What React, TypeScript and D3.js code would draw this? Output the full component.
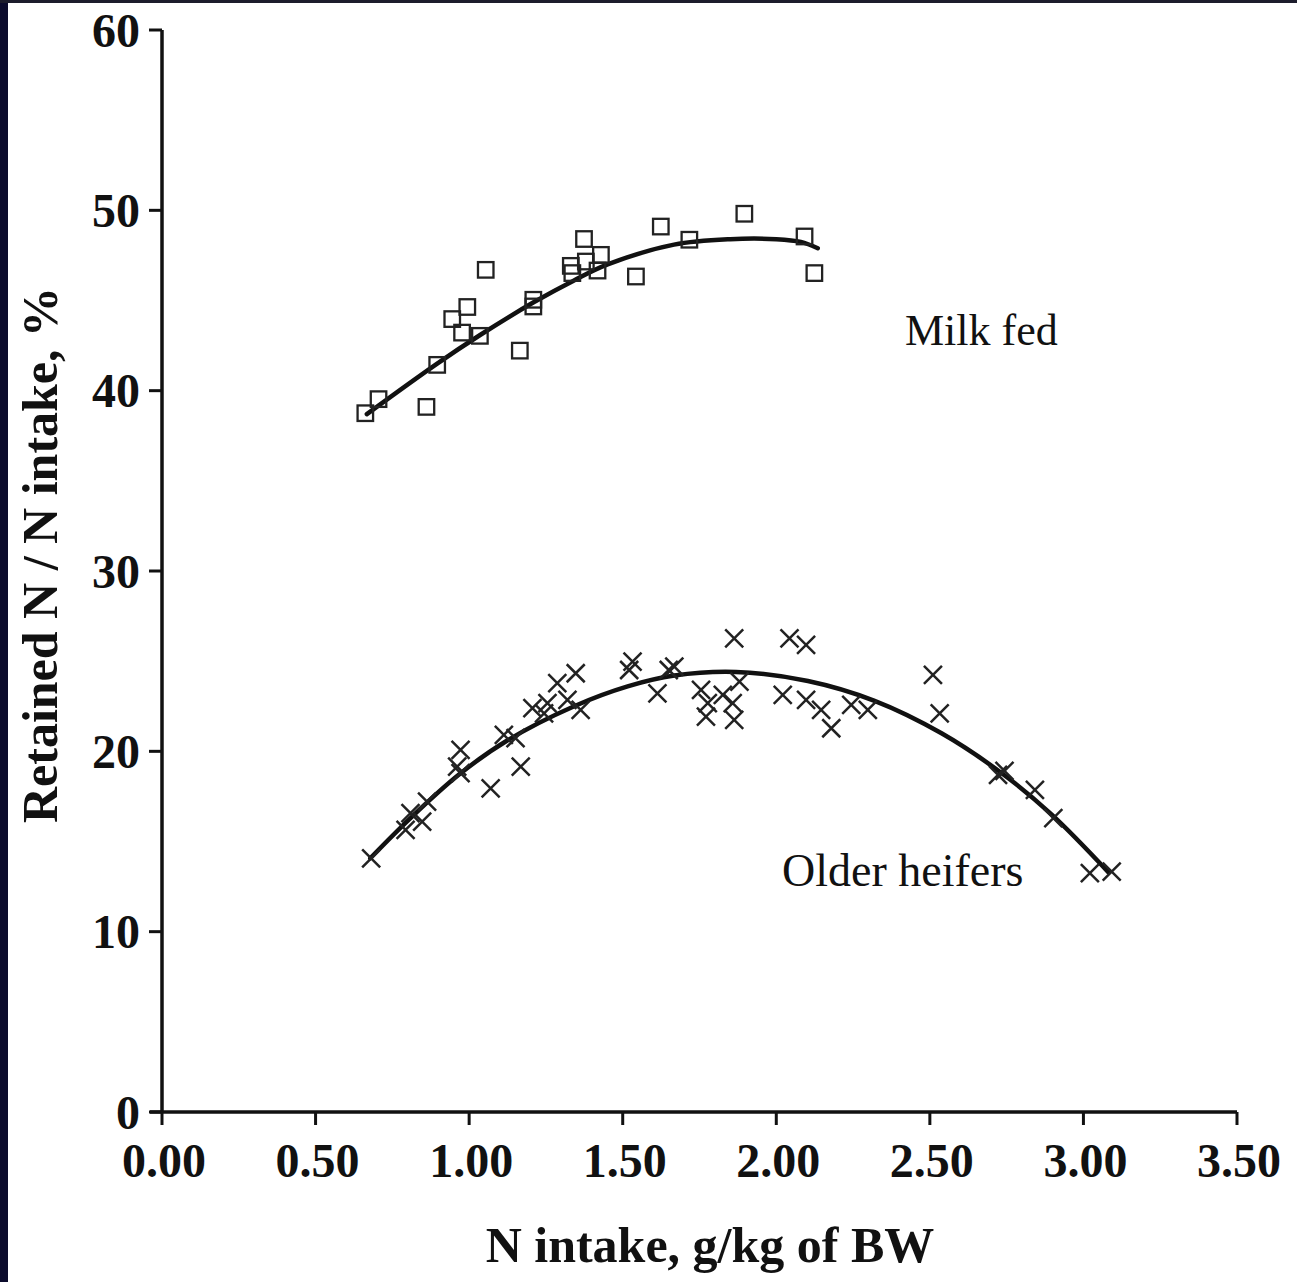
import React from "react";
import * as d3 from "d3";

const W = 1297;
const H = 1282;

// Milk fed (squares)
const milkX = [0.662, 0.705, 0.861, 0.896, 0.945, 0.994, 0.977, 1.035, 1.054, 1.165, 1.209, 1.209, 1.331, 1.336, 1.374, 1.380, 1.429, 1.418, 1.543, 1.624, 1.717, 1.896, 2.092, 2.124];
const milkY = [38.75, 39.53, 39.10, 41.43, 43.97, 44.64, 43.22, 43.04, 46.70, 42.22, 44.67, 45.04, 46.92, 46.52, 48.41, 47.16, 47.53, 46.66, 46.33, 49.10, 48.37, 49.81, 48.55, 46.52];

// Milk fed fitted curve
const milkFitX = [0.667, 0.896, 1.037, 1.210, 1.340, 1.451, 1.667, 1.850, 2.000, 2.080, 2.135];
const milkFitY = [38.7, 41.5, 43.1, 44.9, 46.1, 47.0, 48.1, 48.4, 48.4, 48.25, 47.9];

// Older heifers (crosses)
const heiferX = [0.681, 0.793, 0.809, 0.847, 0.863, 0.961, 0.972, 0.972, 1.070, 1.168, 1.113, 1.151, 1.206, 1.244, 1.287, 1.347, 1.255, 1.320, 1.363, 1.532, 1.521, 1.613, 1.668, 1.650, 1.755, 1.777, 1.771, 1.863, 2.043, 2.097, 1.826, 1.858, 1.863, 1.880, 2.021, 2.097, 2.146, 2.179, 2.244, 2.298, 2.510, 2.532, 2.722, 2.743, 2.842, 2.902, 3.021, 3.092];
const heiferY = [14.07, 15.64, 16.57, 16.10, 17.21, 19.15, 20.08, 18.79, 17.95, 19.15, 20.91, 20.73, 22.39, 22.11, 23.78, 24.33, 22.67, 22.85, 22.30, 24.97, 24.51, 23.22, 24.70, 24.51, 23.41, 22.67, 21.92, 26.27, 26.27, 25.90, 23.13, 22.67, 21.74, 23.87, 23.13, 22.85, 22.30, 21.28, 22.57, 22.30, 24.24, 22.11, 18.69, 18.91, 17.86, 16.29, 13.24, 13.33];

// Older heifers fitted curve
const heiferFitX = [0.678, 0.809, 0.966, 1.124, 1.342, 1.516, 1.668, 1.869, 2.103, 2.320, 2.538, 2.733, 2.896, 3.081];
const heiferFitY = [14.07, 16.3, 18.7, 20.6, 22.5, 23.6, 24.2, 24.4, 23.9, 22.8, 21.0, 18.8, 16.5, 13.3];

const xTicks = [0, 0.5, 1.0, 1.5, 2.0, 2.5, 3.0, 3.5];
const yTicks = [0, 10, 20, 30, 40, 50, 60];

const xLabel = "N intake, g/kg of BW";
const yLabel = "Retained N / N intake, %";
const milkLabel = "Milk fed";
const heiferLabel = "Older heifers";

const x = d3.scaleLinear().domain([0, 3.5]).range([162, 1237]);
const y = d3.scaleLinear().domain([0, 60]).range([1112, 30]);

const line = d3
  .line<[number, number]>()
  .x((d) => x(d[0]))
  .y((d) => y(d[1]))
  .curve(d3.curveCatmullRom.alpha(0.5));

const serifBold = "'Liberation Serif', 'Times New Roman', serif";

export default function App() {
  const milkPts = milkX.map((v, i) => [v, milkY[i]] as [number, number]);
  const heiferPts = heiferX.map((v, i) => [v, heiferY[i]] as [number, number]);
  const milkFit = milkFitX.map((v, i) => [v, milkFitY[i]] as [number, number]);
  const heiferFit = heiferFitX.map((v, i) => [v, heiferFitY[i]] as [number, number]);
  const sq = 15.5;
  const cr = 9;
  return (
    <svg
      width={W}
      height={H}
      style={{ position: "absolute", left: 0, top: 0, background: "#fff" }}
    >
      <rect x={0} y={0} width={W} height={H} fill="#fff" />
      {/* frame remnants */}
      <rect x={0} y={0} width={8} height={H} fill="#0b0b2c" />
      <rect x={0} y={0} width={W} height={3} fill="#1c1c2c" />

      {/* axes */}
      <line x1={x(0)} x2={x(0)} y1={y(60)} y2={y(0)} stroke="#111" strokeWidth={3.5} />
      <line x1={x(0) - 12} x2={x(3.5)} y1={y(0)} y2={y(0)} stroke="#111" strokeWidth={3.5} />
      {yTicks.map((t) => (
        <g key={"y" + t}>
          <line x1={x(0) - 13} x2={x(0)} y1={y(t)} y2={y(t)} stroke="#111" strokeWidth={3} />
          <text
            x={140}
            y={y(t)}
            dy="0.35em"
            textAnchor="end"
            fontFamily={serifBold}
            fontWeight="bold"
            fontSize={48}
            fill="#111"
          >
            {String(t)}
          </text>
        </g>
      ))}
      {xTicks.map((t) => (
        <g key={"x" + t}>
          <line x1={x(t)} x2={x(t)} y1={y(0)} y2={y(0) + 13} stroke="#111" strokeWidth={3} />
          <text
            x={x(t) + 2}
            y={1177}
            textAnchor="middle"
            fontFamily={serifBold}
            fontWeight="bold"
            fontSize={48}
            fill="#111"
          >
            {t.toFixed(2)}
          </text>
        </g>
      ))}
      <text
        x={710}
        y={1262}
        textAnchor="middle"
        fontFamily={serifBold}
        fontWeight="bold"
        fontSize={50}
        fill="#111"
      >
        {xLabel}
      </text>
      <text
        transform={`translate(57,555) rotate(-90)`}
        textAnchor="middle"
        fontFamily={serifBold}
        fontWeight="bold"
        fontSize={50}
        fill="#111"
      >
        {yLabel}
      </text>

      {/* fit lines */}
      <path d={line(milkFit) || ""} fill="none" stroke="#111" strokeWidth={4.5} strokeLinecap="round" />
      <path d={line(heiferFit) || ""} fill="none" stroke="#111" strokeWidth={4.5} strokeLinecap="round" />

      {/* milk fed squares */}
      {milkPts.map((d, i) => (
        <rect
          key={"m" + i}
          x={x(d[0]) - sq / 2}
          y={y(d[1]) - sq / 2}
          width={sq}
          height={sq}
          fill="none"
          stroke="#222"
          strokeWidth={2.3}
        />
      ))}
      {/* heifer crosses */}
      {heiferPts.map((d, i) => {
        const cx = x(d[0]);
        const cy = y(d[1]);
        return (
          <path
            key={"h" + i}
            d={`M${cx - cr},${cy - cr}L${cx + cr},${cy + cr}M${cx - cr},${cy + cr}L${cx + cr},${cy - cr}`}
            stroke="#222"
            strokeWidth={2.5}
            fill="none"
          />
        );
      })}

      <text x={905} y={345} fontFamily={serifBold} fontSize={44} fill="#111">
        {milkLabel}
      </text>
      <text x={782} y={886} fontFamily={serifBold} fontSize={46} fill="#111">
        {heiferLabel}
      </text>
    </svg>
  );
}
